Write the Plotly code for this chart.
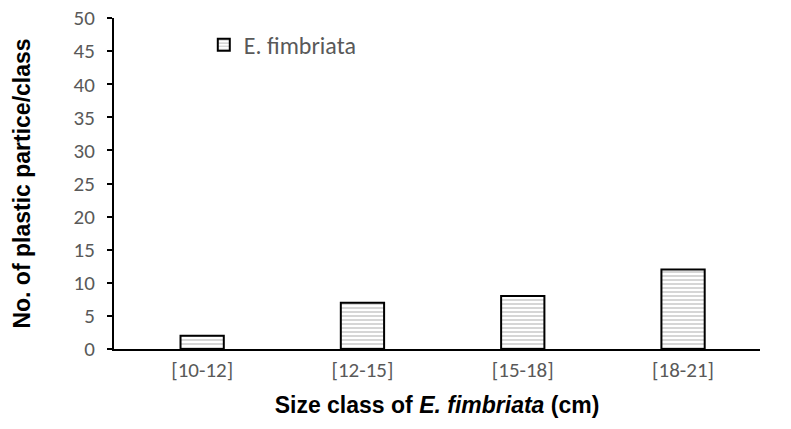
import plotly.graph_objects as go

categories = ["[10-12]", "[12-15]", "[15-18]", "[18-21]"]
values = [2, 7, 8, 12]
series_name = "E. fimbriata"
y_ticks = [0, 5, 10, 15, 20, 25, 30, 35, 40, 45, 50]

TICK_FONT = dict(size=21, color="#595959", family="Carlito, Calibri, Liberation Sans")

fig = go.Figure()
fig.add_trace(go.Bar(
    x=categories, y=values, name=series_name,
    width=0.27,
    marker=dict(color="white",
                line=dict(color="black", width=2),
                pattern=dict(shape="-", fgcolor="#8a8a8a", bgcolor="white", size=4, solidity=0.35)),
    showlegend=True,
))

fig.update_layout(
    width=791, height=429,
    margin=dict(l=114, r=31, t=18, b=80),
    plot_bgcolor="white", paper_bgcolor="white",
    font=dict(family="Carlito, Calibri, Liberation Sans", color="#595959"),
    showlegend=True,
    legend=dict(x=0.139, y=0.918, xanchor="left", yanchor="middle",
                bgcolor="rgba(0,0,0,0)",
                font=dict(size=24, color="#595959", family="Carlito, Calibri, Liberation Sans")),
    xaxis=dict(
        automargin=False,
        range=[-0.55, 3.48],
        showline=True, linecolor="black", linewidth=2,
        ticks="", tickfont=TICK_FONT, ticklabelstandoff=1,
        title=dict(text="<b>Size class of <i>E. fimbriata</i> (cm)</b>",
                   font=dict(size=23, color="black", family="Liberation Sans, Arial"), standoff=15),
    ),
    yaxis=dict(
        automargin=False,
        range=[0, 50], tickvals=y_ticks,
        showline=True, linecolor="black", linewidth=2,
        ticks="outside", ticklen=5, tickwidth=2, tickcolor="black",
        ticklabelstandoff=8,
        showgrid=False, zeroline=False,
        tickfont=TICK_FONT,
        title=dict(text="<b>No. of plastic partice/class</b>",
                   font=dict(size=23, color="black", family="Liberation Sans, Arial"), standoff=36),
    ),
)

fig.write_html("out.html",
               config={"displayModeBar": False},
               post_script="document.body.style.margin='0';document.body.style.overflow='hidden';")
